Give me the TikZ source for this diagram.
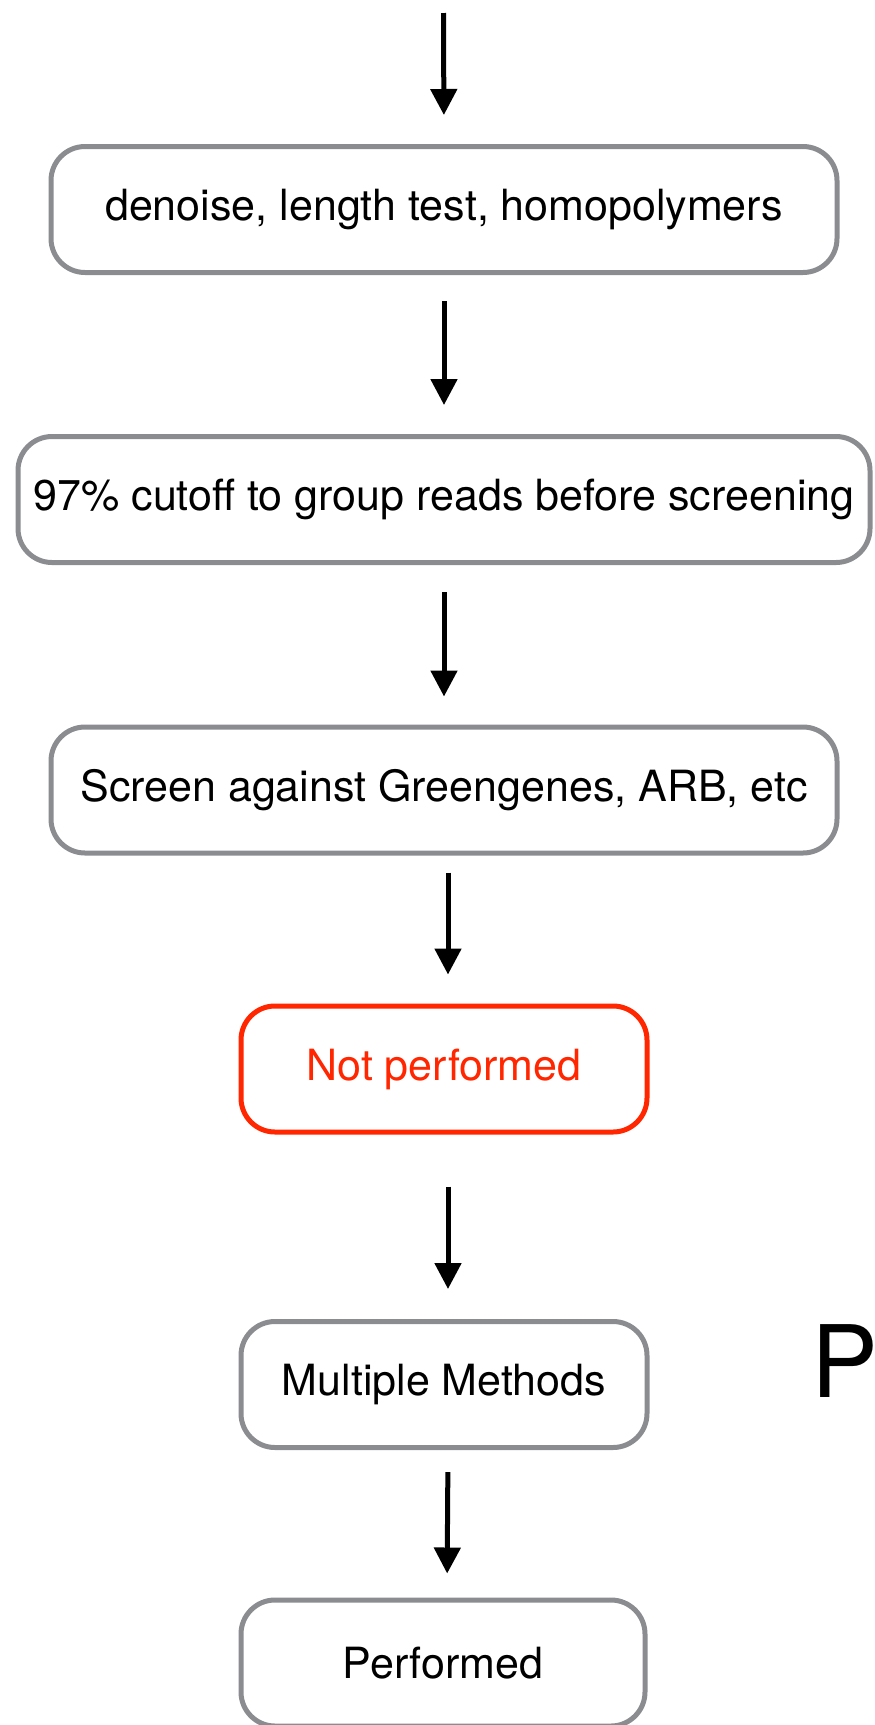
\documentclass[tikz,border=0pt]{standalone}
\usepackage{fontspec}
\setmainfont{TeX Gyre Heros}
\usetikzlibrary{arrows.meta}
\definecolor{boxgray}{RGB}{138,140,144}
\definecolor{stepred}{RGB}{255,38,0}
\tikzset{
	stepbox/.style={draw=boxgray, line width=5pt, rounded corners=34pt, inner sep=0pt,
		minimum height=126pt, font=\fontsize{43}{50}\selectfont},
	redbox/.style={stepbox, draw=stepred, text=stepred},
	flow/.style={line width=5pt, -{Triangle[length=26pt, width=26pt]}}
}
\begin{document}
\begin{tikzpicture}[x=1pt, y=-1pt]
		\useasboundingbox (0,0) rectangle (875,1725);
		%Etapes du pipeline
		\coordinate (top) at (443.5,13);
		\node[stepbox, minimum width=786pt] (denoise) at (444,209.5) {denoise, length test, homopolymers};
		\node[stepbox, minimum width=852pt] (cutoff) at (444,499.5) {97\% cutoff to group reads before screening};
		\node[stepbox, minimum width=786pt] (screen) at (444,790) {Screen against Greengenes, ARB, etc};
		\node[redbox, minimum width=406pt] (notperf) at (444,1069) {Not performed};
		\node[stepbox, minimum width=406pt] (multi) at (444,1384.5) {Multiple Methods};
		\node[stepbox, minimum width=404pt] (perf) at (443,1663) {Performed};
		\node[anchor=base west, inner sep=0pt, font=\fontsize{100}{110}\selectfont] (label) at (811,1397) {P};
		%Fleches entre les etapes
		\draw[flow, shorten >=29pt] (top) -- (denoise.north);
		\draw[flow, shorten <=26pt, shorten >=29pt] (denoise.south) -- (cutoff.north);
		\draw[flow, shorten <=27pt, shorten >=28pt] (cutoff.south) -- (screen.north);
		\draw[flow, shorten <=17pt, shorten >=29pt] ([xshift=4pt]screen.south) -- ([xshift=4pt]notperf.north);
		\draw[flow, shorten <=52pt, shorten >=30pt] ([xshift=4pt]notperf.south) -- ([xshift=4pt]multi.north);
		\draw[flow, shorten <=22pt, shorten >=24pt] ([xshift=4pt]multi.south) -- ([xshift=4pt]perf.north);
	\end{tikzpicture}
\end{document}
